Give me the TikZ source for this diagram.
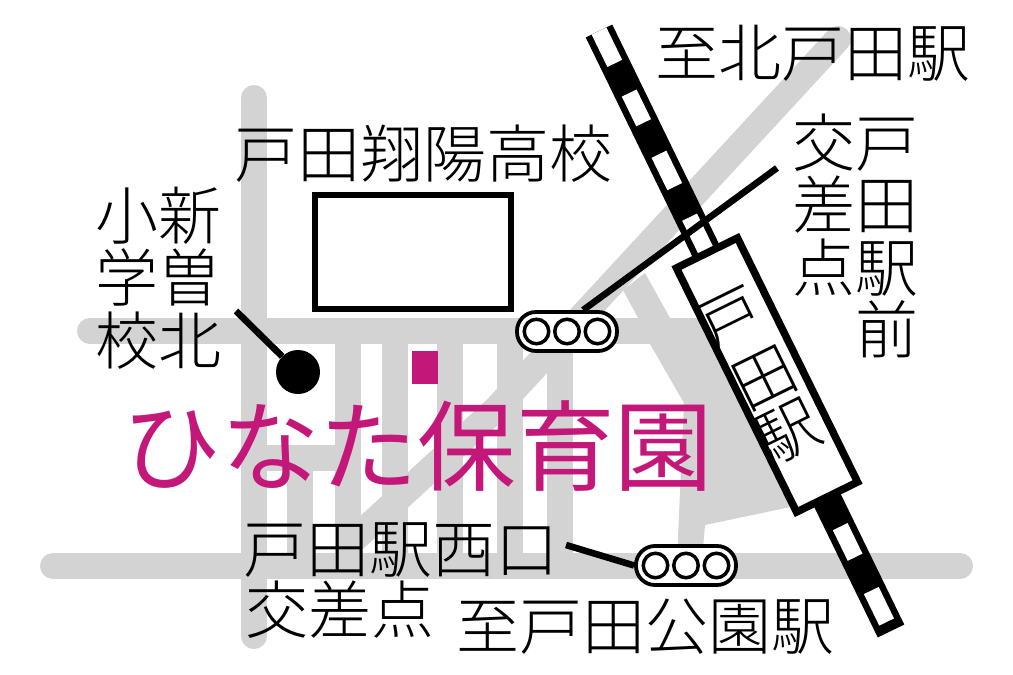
\documentclass[tikz,border=0pt]{standalone}
\usepackage{fontspec}
\setmainfont{Noto Sans CJK JP Light}
\newfontfamily\pinkfont{Noto Sans CJK JP}
\usepackage{xcolor}
\usetikzlibrary{calc,positioning}
\definecolor{roadgray}{HTML}{D3D3D3}
\definecolor{nurserypink}{HTML}{C3177A}
\tikzset{
	road/.style={draw=roadgray, line width=26pt},
	roadcap/.style={road, line cap=round},
	signalbox/.style={draw, line width=3.8pt, fill=white, rounded corners=19pt, minimum width=100pt, minimum height=39pt},
	lamp/.style={circle, draw, line width=3.5pt, fill=white, minimum size=24.5pt, inner sep=0pt},
	leader/.style={line width=6.6pt},
	railtile/.style={draw=white, line width=16.4pt},
	maplabel/.style={inner sep=0pt, font=\fontsize{63}{62.5}\selectfont},
	stationchar/.style={inner sep=0pt, rotate=26.2, font=\fontsize{62}{62}\selectfont},
}
\begin{document}
\begin{tikzpicture}[x=1pt, y=-1pt]
	\useasboundingbox (0,0) rectangle (1013,675);
	% Roads
	\draw[roadcap] (254,98) -- (254,636);
	\draw[roadcap] (90,331) -- (690,331);
	\draw[roadcap] (53,566) -- (960,566);
	\foreach \x in {348,395,450,510,560}
		\draw[road] (\x,331) -- (\x,566);
	\draw[road] (300,458) -- (300,566);
	\draw[road] (254,458) -- (348,458);
	\draw[roadcap] (838,39) -- (497,408) -- (348,545);
	\fill[roadgray] (623,290) -- (645,273) -- (670,318) -- (700,318) -- (800,505) -- (705,525) -- (702,560) -- (677,560) -- (684,403) -- (650,344) -- (638,318) -- cycle;
	% Pink name and its mark
	\fill[nurserypink] (412,351) rectangle (438,384);
	\node[inner sep=0pt, text=nurserypink, font=\pinkfont\fontsize{98.5}{98.5}\selectfont] (nursery) at (418,446.5) {ひなた保育園};
	% Rail line
	\coordinate (railtop) at (599,31);
	\coordinate (railbot) at (891,631);
	\draw[line width=29.5pt] (railtop) -- (railbot);
	\foreach \a/\b in {0/36,69/102,137/173,207/300,551/585,622/657}
		\draw[railtile] ($(railtop)!\a/667!(railbot)$) -- ($(railtop)!\b/667!(railbot)$);
	% Station
	\node[draw, line width=7.5pt, fill=white, rotate=26.2, minimum width=68pt, minimum height=272pt] (station) at (767,375) {};
	\node[stationchar] (stationa) at (731,320) {戸};
	\node[stationchar] (stationb) at (765,378) {田};
	\node[stationchar] (stationc) at (789,432) {駅};
	% School
	\node[draw, line width=6.2pt, fill=white, minimum width=196pt, minimum height=114pt] (school) at (413,252) {};
	\node[circle, fill=black, minimum size=44pt, inner sep=0pt] (dot) at (298,372) {};
	% Labels
	\node[maplabel] (north) at (813,53) {至北戸田駅};
	\node[maplabel] (schoolname) at (423,154) {戸田翔陽高校};
	\node[maplabel, align=right] (crossnorth) at (855,236) {交戸\\差田\\点駅\\前};
	\node[maplabel, align=left] (elementary) at (158,278) {小新\\学曽\\校北};
	\node[maplabel] (crosswest) at (401,550) {戸田駅西口};
	\node[maplabel] (crosswestb) at (340,610) {交差点};
	\node[maplabel] (south) at (645,627) {至戸田公園駅};
	% Leader ends
	\coordinate (tagnorth) at (777,168);
	\coordinate (tagwest) at (566,545);
	\coordinate (tagdot) at (236,311);
	% Signals
	\node[signalbox] (signalnorth) at (567,331.5) {};
	\node[signalbox] (signalsouth) at (686,565.5) {};
	\draw[leader] (tagnorth) -- (signalnorth.53);
	\draw[leader] (tagwest) -- (signalsouth.west);
	\draw[leader] (tagdot) -- (dot);
	\node[lamp] (lampnb) at (signalnorth) {};
	\node[lamp, left=2.5pt of lampnb] (lampna) {};
	\node[lamp, right=2.5pt of lampnb] (lampnc) {};
	\node[lamp] (lampsb) at (signalsouth) {};
	\node[lamp, left=2.5pt of lampsb] (lampsa) {};
	\node[lamp, right=2.5pt of lampsb] (lampsc) {};
\end{tikzpicture}
\end{document}
